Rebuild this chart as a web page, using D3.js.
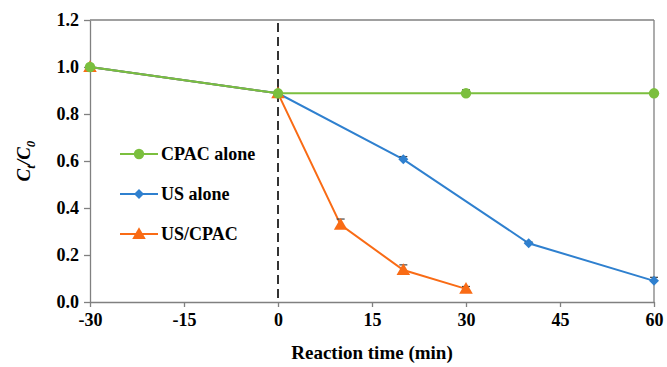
<!DOCTYPE html>
<html><head><meta charset="utf-8">
<script src="https://cdn.jsdelivr.net/npm/d3@7"></script>
</head><body style="margin:0;background:#fff"><svg id="c" width="667" height="367" style="display:block"></svg>
<script>
const xTicks = [-30, -15, 0, 15, 30, 45, 60];
const yTicks = [0.0, 0.2, 0.4, 0.6, 0.8, 1.0, 1.2];
const cpacTime = [-30, 0, 30, 60];
const cpacVal = [1.0, 0.888, 0.888, 0.888];
const cpacErr = [0, 0, 0.015, 0];
const usTime = [-30, 0, 20, 40, 60];
const usVal = [1.0, 0.888, 0.607, 0.25, 0.09];
const usErr = [0, 0, 0.012, 0.005, 0.015];
const comboTime = [-30, 0, 10, 20, 30];
const comboVal = [1.0, 0.888, 0.328, 0.136, 0.056];
const comboErr = [0, 0, 0.025, 0.022, 0.01];
const seriesNames = ["CPAC alone", "US alone", "US/CPAC"];
const colors = ["#7BBF3E", "#2F80CF", "#F96B15"];

const FONT = '"Liberation Serif", "Times New Roman", serif';
const svg = d3.select("#c");
const L = 90, R = 654, T = 20, B = 302;
const x = d3.scaleLinear().domain([-30, 60]).range([L, R]);
const y = d3.scaleLinear().domain([0, 1.2]).range([B, T]);
const axisColor = "#808080";
function serif(sel, size) {
  return sel.style("font-family", FONT, "important").style("font-weight", "bold", "important")
    .style("font-size", size + "px", "important");
}

svg.append("line").attr("x1", L).attr("x2", R).attr("y1", T).attr("y2", T).attr("stroke", axisColor).attr("stroke-width", 1.3);
svg.append("line").attr("x1", R).attr("x2", R).attr("y1", T).attr("y2", B).attr("stroke", axisColor).attr("stroke-width", 1.3);

const ya = svg.append("g").attr("transform", `translate(${L},0)`)
  .call(d3.axisLeft(y).tickValues(yTicks).tickFormat(d => d.toFixed(1)).tickSize(6).tickSizeOuter(0));
const xa = svg.append("g").attr("transform", `translate(0,${B})`)
  .call(d3.axisBottom(x).tickValues(xTicks).tickFormat(d => String(d)).tickSize(5).tickSizeOuter(0));
[ya, xa].forEach(g => {
  g.attr("font-family", FONT).attr("font-size", 18).attr("font-weight", "bold");
  g.selectAll("path,line").attr("stroke", axisColor).attr("stroke-width", 1.3);
  serif(g.selectAll("text").attr("fill", "#000"), 18);
});
ya.selectAll("text").attr("x", -11);
xa.selectAll("text").attr("y", 11);

svg.append("line").attr("x1", x(0)).attr("x2", x(0)).attr("y1", T + 3).attr("y2", B - 2)
  .attr("stroke", "#333").attr("stroke-width", 2).attr("stroke-dasharray", "9,5");

const data = [
  {t: cpacTime, v: cpacVal, e: cpacErr, shape: d3.symbolCircle, size: 85, rot: 0},
  {t: usTime, v: usVal, e: usErr, shape: d3.symbolSquare, size: 50, rot: 45},
  {t: comboTime, v: comboVal, e: comboErr, shape: d3.symbolTriangle, size: 80, rot: 0}
];
const line = d3.line().x(d => x(d[0])).y(d => y(d[1]));
[2, 1, 0].forEach(i => {
  const s = data[i];
  const pts = s.t.map((t, j) => [t, s.v[j], s.e[j]]);
  svg.append("path").datum(pts).attr("d", line).attr("fill", "none").attr("stroke", colors[i]).attr("stroke-width", 2);
});
[2, 1, 0].forEach(i => {
  const s = data[i];
  const pts = s.t.map((t, j) => [t, s.v[j], s.e[j]]);
  const g = svg.append("g");
  pts.filter(p => p[2] > 0).forEach(p => {
    g.append("line").attr("x1", x(p[0])).attr("x2", x(p[0])).attr("y1", y(p[1])).attr("y2", y(p[1] + p[2])).attr("stroke", "#444").attr("stroke-width", 1);
    g.append("line").attr("x1", x(p[0]) - 4).attr("x2", x(p[0]) + 4).attr("y1", y(p[1] + p[2])).attr("y2", y(p[1] + p[2])).attr("stroke", "#444").attr("stroke-width", 1.2);
  });
  g.selectAll("path").data(pts).join("path")
    .attr("d", d3.symbol().type(s.shape).size(s.size))
    .attr("transform", p => `translate(${x(p[0])},${y(p[1]) + (s.shape === d3.symbolTriangle ? 1 : 0)}) rotate(${s.rot})`)
    .attr("fill", colors[i]);
});

const legY = [154, 194, 234];
seriesNames.forEach((n, i) => {
  const g = svg.append("g").attr("transform", `translate(0,${legY[i]})`);
  g.append("line").attr("x1", 120).attr("x2", 158).attr("stroke", colors[i]).attr("stroke-width", 2);
  g.append("path").attr("d", d3.symbol().type(data[i].shape).size(data[i].size)).attr("transform", `translate(139,${i === 2 ? 1 : 0}) rotate(${data[i].rot})`).attr("fill", colors[i]);
  serif(g.append("text").attr("x", 161).attr("y", 6), 18).text(n);
});

serif(svg.append("text").attr("x", x(15)).attr("y", 359).attr("text-anchor", "middle"), 19).text("Reaction time (min)");
const yt = serif(svg.append("text").attr("transform", `translate(30,${y(0.6)}) rotate(-90)`).attr("text-anchor", "middle"), 19)
  .style("font-style", "italic", "important");
yt.append("tspan").text("C");
yt.append("tspan").attr("dy", 5).style("font-size", "13px", "important").text("t");
yt.append("tspan").attr("dy", -5).text("/C");
yt.append("tspan").attr("dy", 5).style("font-size", "13px", "important").text("0");
</script></body></html>
